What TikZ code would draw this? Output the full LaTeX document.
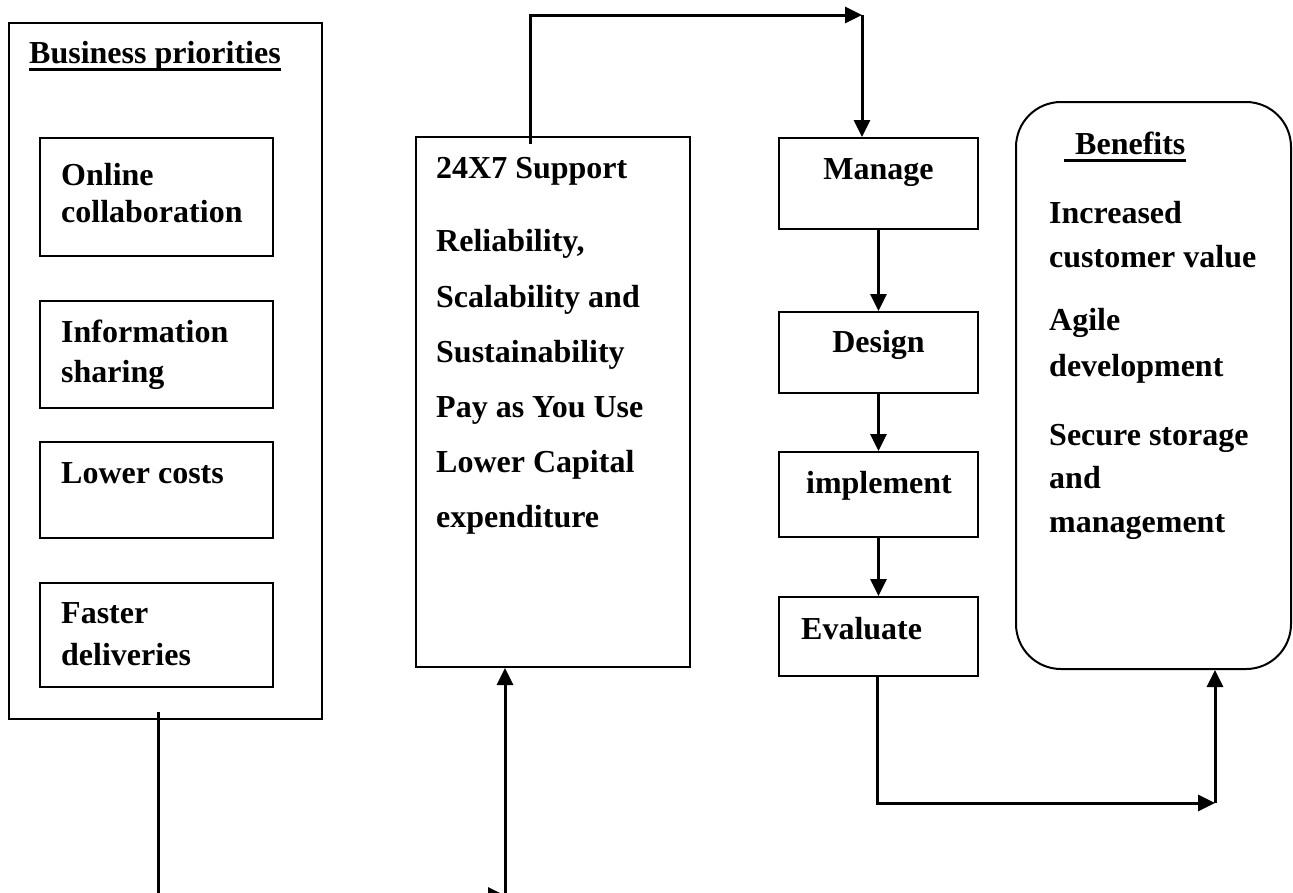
\documentclass[tikz,border=0pt]{standalone}
\usepackage{fontspec}
\setmainfont{Liberation Serif}
\usetikzlibrary{arrows.meta}
\begin{document}
\begin{tikzpicture}[x=1pt,y=-1pt,
  box/.style={draw, line width=2pt, inner sep=0pt},
  txt/.style={anchor=base west, inner sep=0pt, font=\fontsize{32}{38}\selectfont\bfseries},
  ctxt/.style={anchor=base, inner sep=0pt, font=\fontsize{32}{38}\selectfont\bfseries},
  conn/.style={line width=3pt},
  arr/.style={conn, -{Triangle[length=17pt,width=16pt]}},
  ul/.style={line width=3pt}]
\useasboundingbox (0,0) rectangle (1293,892);
\clip (0,0) rectangle (1293,892);
% boxes
\node[box, minimum width=313pt, minimum height=696pt] (bp) at (165.5,371) {};
\node[box, minimum width=233pt, minimum height=118pt] (b1) at (156.5,197) {};
\node[box, minimum width=233pt, minimum height=107pt] (b2) at (156.5,354.5) {};
\node[box, minimum width=233pt, minimum height=96pt] (b3) at (156.5,490) {};
\node[box, minimum width=233pt, minimum height=104pt] (b4) at (156.5,635) {};
\node[box, minimum width=274pt, minimum height=530pt] (sup) at (553,402) {};
\node[box, minimum width=199pt, minimum height=91pt] (man) at (878.5,183.5) {};
\node[box, minimum width=199pt, minimum height=81pt] (des) at (878.5,352.5) {};
\node[box, minimum width=199pt, minimum height=85pt] (imp) at (878.5,494.5) {};
\node[box, minimum width=199pt, minimum height=79pt] (eva) at (878.5,636.5) {};
\node[box, rounded corners=45pt, minimum width=275pt, minimum height=567pt] (ben) at (1153.5,385.5) {};
% texts: business priorities
\node[txt] (bpt) at (29,63) {Business priorities};
\draw[ul] ([yshift=-6pt]bpt.base west) -- ([yshift=-6pt]bpt.base east);
\node[txt] (t11) at (61,185) {Online};
\node[txt] (t12) at (61,222) {collaboration};
\node[txt] (t21) at (61,342) {Information};
\node[txt] (t22) at (61,382) {sharing};
\node[txt] (t31) at (61,483) {Lower costs};
\node[txt] (t41) at (61,623) {Faster};
\node[txt] (t42) at (61,665) {deliveries};
% support box
\node[txt] (s1) at (436,178) {24X7 Support};
\node[txt] (s2) at (436,251) {Reliability,};
\node[txt] (s3) at (436,307) {Scalability and};
\node[txt] (s4) at (436,362) {Sustainability};
\node[txt] (s5) at (436,417) {Pay as You Use};
\node[txt] (s6) at (436,472) {Lower Capital};
\node[txt] (s7) at (436,527) {expenditure};
% process
\node[ctxt] (mant) at (878.5,179) {Manage};
\node[ctxt] (dest) at (878.5,352) {Design};
\node[ctxt] (impt) at (879,493) {implement};
\node[txt] (evat) at (801,639) {Evaluate};
% benefits
\node[txt] (bent) at (1075,154) {Benefits};
\draw[ul] ([xshift=-11pt,yshift=-6pt]bent.base west) -- ([yshift=-6pt]bent.base east);
\node[txt] (n1) at (1049,223) {Increased};
\node[txt] (n2) at (1049,267) {customer value};
\node[txt] (n3) at (1049,330) {Agile};
\node[txt] (n4) at (1049,376) {development};
\node[txt] (n5) at (1049,445) {Secure storage};
\node[txt] (n6) at (1049,488) {and};
\node[txt] (n7) at (1049,532) {management};
% connectors
\coordinate (t1) at (530,15);
\coordinate (t2) at (862,15);
\draw[arr] ([yshift=-8pt]sup.north -| t1) -- (t1) -- (t2);
\draw[arr] (t2) -- (t2 |- man.north);
\draw[arr] (man.south) -- (des.north);
\draw[arr] (des.south) -- (imp.north);
\draw[arr] (imp.south) -- (eva.north);
\coordinate (r1) at (877,803);
\coordinate (r2) at (1215,803);
\draw[arr] (eva.south -| r1) -- (r1) -- (r2);
\draw[arr] (r2) -- (r2 |- ben.south);
\coordinate (l1) at (158,895.5);
\coordinate (l2) at (505,895.5);
\draw[arr] ([yshift=8pt]bp.south -| l1) -- (l1) -- (l2);
\draw[arr] (l2) -- (l2 |- sup.south);
\end{tikzpicture}
\end{document}
